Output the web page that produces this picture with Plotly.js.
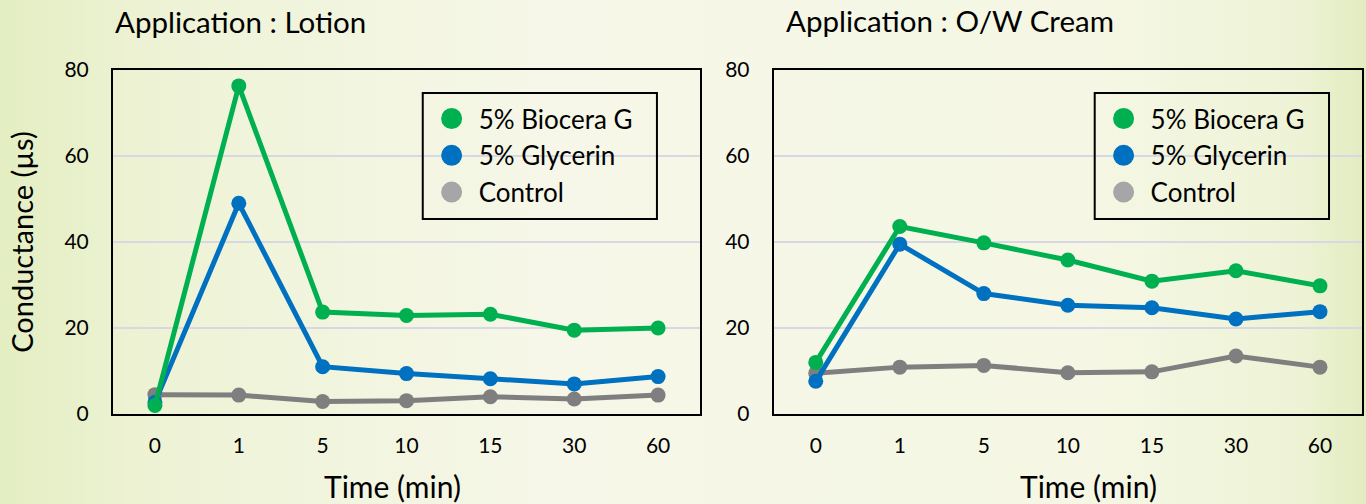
<!DOCTYPE html>
<html><head><meta charset="utf-8">
<script src="https://cdn.plot.ly/plotly-3.0.1.min.js"></script>
<style>
html,body{margin:0;padding:0;width:1366px;height:504px;overflow:hidden;
background:linear-gradient(90deg,#e4eec2 0%,#eef3d6 12%,#f6f7e8 40%,#f5f7e4 80%,#eef3d6 95%,#e2ecbf 100%);}
#chart{width:1366px;height:504px;}
</style></head>
<body><div id="chart"></div>
<script>
const categories = ["0","1","5","10","15","30","60"];
const seriesNames = ["5% Biocera G","5% Glycerin","Control"];
const lotionBiocera  = [2, 76.3, 23.7, 22.9, 23.2, 19.5, 20.0];
const lotionGlycerin = [2.7, 49.0, 11.0, 9.4, 8.2, 7.0, 8.7];
const lotionControl  = [4.5, 4.4, 2.9, 3.1, 4.0, 3.5, 4.4];
const creamBiocera   = [12.0, 43.6, 39.8, 35.8, 30.9, 33.3, 29.8];
const creamGlycerin  = [7.6, 39.5, 28.0, 25.3, 24.7, 22.1, 23.8];
const creamControl   = [9.5, 10.9, 11.3, 9.6, 9.8, 13.5, 10.9];
const titles = ["Application : Lotion","Application : O/W Cream"];
const xTitle = "Time (min)";
const yTitle = "Conductance (µs)";

const colors = ["#00B050","#0070C0","#7F7F7F"];
const legendColors = ["#00B050","#0070C0","#A6A6A6"];
const FONT = "Lato, 'Open Sans', sans-serif";

function line(y, i, xa, ya){
  return {type:"scatter", mode:"lines+markers", x:categories, y:y, xaxis:xa, yaxis:ya,
    name:seriesNames[i], showlegend:false,
    line:{color:colors[i], width:5}, marker:{color:colors[i], size:15}};
}
function leg(i, legend){
  return {type:"scatter", mode:"markers", x:[null], y:[null], name:seriesNames[i],
    legend:legend, legendgroup:legend+i,
    marker:{color:legendColors[i], size:16, line:{color:legendColors[i], width:5}}, hoverinfo:"skip"};
}
const data = [
  line(lotionControl,2,"x","y"), line(lotionGlycerin,1,"x","y"), line(lotionBiocera,0,"x","y"),
  line(creamControl,2,"x2","y2"), line(creamGlycerin,1,"x2","y2"), line(creamBiocera,0,"x2","y2"),
  leg(0,"legend"), leg(1,"legend"), leg(2,"legend"),
  leg(0,"legend2"), leg(1,"legend2"), leg(2,"legend2")
];
const xax = (dom) => ({domain:dom, type:"category", range:[-0.5,6.5], showgrid:false,
  showline:true, mirror:true, linecolor:"#000", linewidth:2, zeroline:false,
  ticks:"", ticklabelstandoff:12, tickfont:{size:21, color:"#000", family:FONT},
  title:{text:""}});
const yax = (anchor, withTitle) => ({anchor:anchor, domain:[0,1], range:[0,80], tickvals:[0,20,40,60,80],
  showgrid:true, gridcolor:"#d8d8e4", gridwidth:1.5, showline:true, mirror:true, linecolor:"#000", linewidth:2,
  zeroline:false, ticks:"", ticklabelstandoff:18, tickfont:{size:21, color:"#000", family:FONT},
  title: withTitle ? {text:yTitle, font:{size:29, color:"#000", family:FONT}, standoff:22} : {text:""}});
const legendCfg = (x) => ({x:x, y:0.927, xanchor:"left", yanchor:"top", xref:"paper", yref:"paper",
  bgcolor:"rgba(0,0,0,0)", borderwidth:0,
  font:{size:26, color:"#000", family:FONT}, traceorder:"grouped", tracegroupgap:0,
  itemsizing:"trace", itemwidth:44});
const box = (x0, x1) => ({type:"rect", xref:"paper", yref:"paper", x0:x0, x1:x1, y0:0.567, y1:0.933,
  line:{color:"#000", width:2}, fillcolor:"rgba(0,0,0,0)", layer:"above"});
const ann = (text, x, y, size, anchor) => ({text:text, xref:"paper", yref:"paper", x:x, y:y, xanchor:anchor,
  yanchor:"middle", showarrow:false, font:{size:size, color:"#000", family:FONT}});
const layout = {
  width:1366, height:504, paper_bgcolor:"rgba(0,0,0,0)", plot_bgcolor:"rgba(0,0,0,0)",
  margin:{l:113, r:4, t:70, b:90}, font:{family:FONT, color:"#000"},
  xaxis:xax([0,0.470]), xaxis2:Object.assign(xax([0.529,1]),{anchor:"y2"}),
  yaxis:yax("x", true), yaxis2:yax("x2", false),
  legend:legendCfg(0.2495), legend2:legendCfg(0.7875),
  shapes:[box(0.248, 0.4355), box(0.786, 0.9736)],
  annotations:[
    ann(titles[0], 0, 1.14, 29.5, "left"),
    ann(titles[1], 0.537, 1.145, 29.5, "left"),
    ann(xTitle, 0.224, -0.209, 30, "center"),
    ann(xTitle, 0.781, -0.209, 30, "center")
  ],
  showlegend:true
};
Plotly.newPlot("chart", data, layout, {displayModeBar:false, staticPlot:true});
</script></body></html>
